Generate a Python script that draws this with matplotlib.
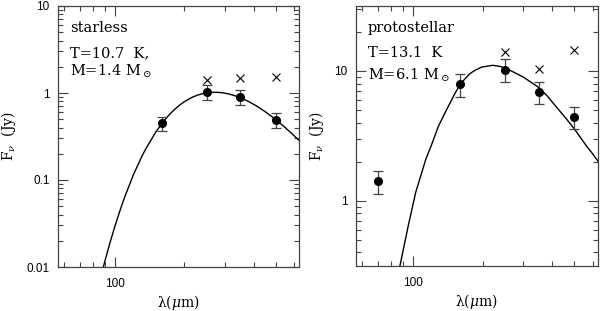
import numpy as np
import matplotlib
matplotlib.use("Agg")
from matplotlib import pyplot as plt
from matplotlib.ticker import LogLocator, NullFormatter, FixedLocator, FixedFormatter

plt.rcParams['font.family'] = ['DejaVu Serif']
plt.rcParams['mathtext.fontset'] = 'dejavuserif'

# starless core
wav_s = [160, 250, 350, 500]
flux_s = [0.449, 1.02, 0.90, 0.494]
err_s = [0.085, 0.20, 0.18, 0.095]
wav_sx = [250, 350, 500]
flux_sx = [1.40, 1.50, 1.54]
model_wav_s = [88, 91, 95, 100, 105, 110, 120, 130, 135, 150, 160, 170, 180, 190, 200, 215, 228, 240,
               255, 270, 285, 300, 320, 340, 360, 380, 405, 430, 455, 480, 510, 540, 570, 600, 631]
model_flux_s = [0.0093, 0.0130, 0.0195, 0.0306, 0.0455, 0.0645, 0.116, 0.1835, 0.223, 0.356, 0.452,
                0.547, 0.638, 0.722, 0.796, 0.887, 0.946, 0.984, 1.011, 1.02, 1.014, 0.996, 0.958,
                0.910, 0.856, 0.799, 0.728, 0.660, 0.596, 0.537, 0.473, 0.417, 0.367, 0.324, 0.285]

# protostellar core
wav_p = [70, 160, 250, 350, 500]
flux_p = [1.41, 7.91, 10.25, 6.92, 4.41]
err_p = [0.29, 1.6, 2.0, 1.37, 0.85]
wav_px = [250, 350, 500]
flux_px = [13.97, 10.3, 14.6]
model_wav_p = [87.5, 95.1, 102.4, 113.2, 120, 128.4, 140, 151.7, 160.6, 176.2, 185, 198, 221, 240,
               263, 300, 348.5, 380, 418.6, 460, 503, 565, 600, 635]
model_flux_p = [0.316, 0.644, 1.16, 2.08, 2.7, 3.74, 5.1, 6.72, 8.01, 9.55, 10.1, 10.7, 11.05, 10.8,
                10.1, 8.97, 7.5, 6.45, 5.25, 4.3, 3.52, 2.63, 2.3, 2.0]

fig = plt.figure(figsize=(6, 3.11), dpi=100)
ax1 = fig.add_axes([58/600, 1-267/311, 241/600, 261/311])
ax2 = fig.add_axes([355.7/600, 1-265.7/311, 242/600, 259.7/311])


def style(ax, ylim, yticks, ylabels):
    ax.set_xscale('log')
    ax.set_yscale('log')
    ax.set_xlim(10**1.75, 10**2.8)
    ax.set_ylim(*ylim)
    ax.xaxis.set_major_locator(FixedLocator([100]))
    ax.xaxis.set_major_formatter(FixedFormatter(['100']))
    ax.xaxis.set_minor_locator(LogLocator(base=10, subs=np.arange(2, 10)))
    ax.xaxis.set_minor_formatter(NullFormatter())
    ax.yaxis.set_major_locator(FixedLocator(yticks))
    ax.yaxis.set_major_formatter(FixedFormatter(ylabels))
    ax.yaxis.set_minor_locator(LogLocator(base=10, subs=np.arange(2, 10)))
    ax.yaxis.set_minor_formatter(NullFormatter())
    ax.tick_params(which='both', direction='in', top=True, right=True, color='#444444')
    ax.tick_params(which='major', length=7, width=0.8)
    ax.tick_params(which='minor', length=3.5, width=0.8)
    ax.tick_params(axis='x', pad=8)
    ax.tick_params(axis='y', pad=6)
    for lab in ax.get_xticklabels() + ax.get_yticklabels():
        lab.set_family(['Liberation Sans', 'DejaVu Sans'])
        lab.set_fontsize(8.5)
    for sp in ax.spines.values():
        sp.set_color('#444444')
        sp.set_linewidth(0.9)
    ax.set_xlabel(r'λ($\mu$m)', fontsize=10)
    ax.set_ylabel(r'F$_\nu$  (Jy)', fontsize=10)


style(ax1, (0.01, 10), [0.01, 0.1, 1, 10], ['0.01', '0.1', '1', '10'])
style(ax2, (10**-0.5, 10**1.5), [1, 10], ['1', '10'])
ax1.xaxis.set_label_coords(0.5, -0.098)
ax2.xaxis.set_label_coords(0.5, -0.103)
ax1.yaxis.set_label_coords(-0.165, 0.5)
ax2.yaxis.set_label_coords(-0.122, 0.5)

for ax, mw, mf, w, f, e, wx, fx in [
        (ax1, model_wav_s, model_flux_s, wav_s, flux_s, err_s, wav_sx, flux_sx),
        (ax2, model_wav_p, model_flux_p, wav_p, flux_p, err_p, wav_px, flux_px)]:
    ax.plot(mw, mf, color='black', lw=1.0)
    ax.errorbar(w, f, yerr=e, fmt='o', color='black', ms=5.5, ecolor='#444444',
                elinewidth=0.9, capsize=3.5, capthick=0.9)
    ax.plot(wx, fx, 'x', color='black', ms=5.5, mew=0.8)


def label(x, y, s):
    fig.text(x/600, 1 - y/311, s, fontsize=10.5, va='center', ha='left')


label(70, 28, 'starless')
label(70, 53, 'T=10.7  K,')
label(70, 71, r'M=1.4 M$_\odot$')
label(368, 28, 'protostellar')
label(368, 53, 'T=13.1  K')
label(368, 75, r'M=6.1 M$_\odot$')

fig.savefig('out.png', dpi=100)
